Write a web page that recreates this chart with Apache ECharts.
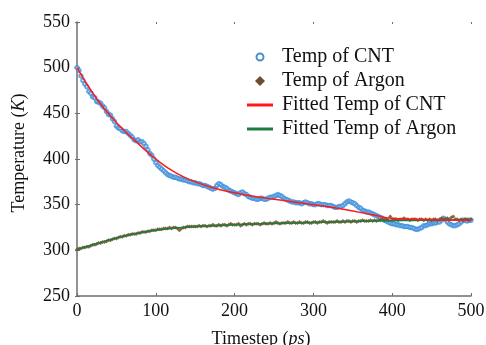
<!DOCTYPE html>
<html>
<head>
<meta charset="utf-8">
<script src="https://cdn.jsdelivr.net/npm/echarts@6/dist/echarts.min.js"></script>
<style>
  html, body { margin: 0; padding: 0; background: #fff; }
  #chart { width: 486px; height: 345px; }
</style>
</head>
<body>
<div id="chart"></div>
<script>
// sample step of the scatter data (ps)
var stepPs = 2.5;
var fitStepPs = 25;

// Temp of CNT, one value every 2.5 ps from 0 to 500
var tempCNT = [500,
  497, 491, 486, 482, 479, 474, 472, 468, 467, 463,
  462, 461, 458, 456, 452, 449, 448, 444, 441, 436,
  434, 433, 431, 430, 430, 428, 426, 424, 421, 420,
  421, 419, 419, 417, 414, 410, 406, 404, 400, 396,
  393, 391, 389, 387, 385, 383, 382, 381, 380, 380,
  379, 378, 378, 377, 377, 376, 375, 375, 374, 374,
  373, 373, 372, 371, 371, 370, 369, 368, 367, 368,
  371, 373, 372, 370, 369, 368, 366, 365, 364, 363,
  362, 361, 363, 364, 362, 361, 359, 358, 357, 357,
  356, 356, 357, 357, 356, 356, 357, 358, 358, 359,
  360, 361, 360, 359, 357, 356, 355, 354, 353, 353,
  352, 352, 352, 351, 352, 353, 352, 351, 351, 350,
  350, 351, 351, 350, 350, 350, 349, 349, 349, 348,
  347, 347, 348, 348, 349, 351, 353, 354, 353, 352,
  351, 349, 347, 346, 344, 343, 342, 342, 341, 340,
  339, 338, 337, 336, 335, 333, 332, 331, 330, 329,
  329, 328, 328, 327, 327, 326, 326, 326, 325, 325,
  324, 323, 323, 324, 325, 327, 327, 328, 329, 329,
  330, 330, 331, 331, 333, 335, 334, 331, 329, 328,
  327, 327, 328, 329, 331, 333, 333, 332, 333, 333];

// Temp of Argon, one value every 2.5 ps from 0 to 500
var tempArgon = [301,
  302, 302, 303, 303, 304, 304, 305, 306, 306, 307,
  308, 308, 309, 309, 310, 311, 311, 312, 313, 313,
  314, 315, 315, 316, 316, 317, 317, 318, 318, 318,
  319, 319, 320, 320, 320, 321, 321, 322, 322, 322,
  323, 323, 323, 324, 324, 324, 325, 324, 325, 325,
  324, 322, 324, 325, 325, 326, 326, 326, 326, 326,
  326, 327, 326, 327, 327, 326, 327, 327, 328, 327,
  327, 328, 327, 328, 328, 327, 328, 329, 328, 328,
  328, 329, 327, 328, 329, 328, 329, 329, 328, 329,
  329, 329, 328, 329, 330, 329, 329, 330, 329, 330,
  331, 330, 329, 330, 330, 330, 331, 330, 330, 331,
  330, 330, 331, 330, 330, 331, 331, 330, 330, 331,
  331, 330, 331, 331, 332, 331, 330, 331, 331, 331,
  331, 332, 331, 331, 332, 331, 332, 332, 331, 332,
  332, 331, 332, 332, 333, 332, 332, 332, 333, 332,
  333, 332, 333, 333, 334, 333, 334, 333, 337, 334,
  334, 334, 333, 334, 334, 335, 334, 334, 333, 334,
  334, 334, 333, 334, 334, 333, 334, 333, 334, 333,
  334, 334, 333, 334, 335, 334, 334, 335, 334, 336,
  337, 334, 334, 333, 334, 333, 334, 334, 333, 334];

// fitted curves, one value every 25 ps from 0 to 500
var fitCNT = [500, 466, 440, 419, 400, 385, 375, 368, 363, 359, 356,
  353, 350, 347, 343, 339, 335, 334, 333.5, 333, 333];
var fitArgon = [301, 307.5, 313.5, 318.5, 322, 324.5, 326, 327, 328, 328.8, 329.5,
  330, 330.5, 331, 331.5, 332, 332.5, 332.8, 333, 333.2, 333.5];

var seriesNames = ['Temp of CNT', 'Temp of Argon', 'Fitted Temp of CNT', 'Fitted Temp of Argon'];

function pairs(vals, step) {
  return vals.map(function (v, i) { return [i * step, v]; });
}

var myChart = echarts.init(document.getElementById('chart'));
var font = '"Liberation Serif", "Times New Roman", serif';
var axisGray = '#6e6e6e';
// legend glyphs, padded with move-to points so they keep their size in the 26x10 box
var lineIcon = 'path://M0,0M26,10M0,3.5L26,3.5L26,6.5L0,6.5Z';
var diamondIcon = 'path://M0,0M26,10M8,5L13,0L18,5L13,10Z';
var circleIcon = 'path://M0,0M26,10M9.5,5A3.5,3.5 0 1 1 16.5,5A3.5,3.5 0 1 1 9.5,5Z';

var option = {
  animation: false,
  textStyle: { fontFamily: font },
  grid: { left: 77, right: 15, top: 22, bottom: 49, outerBoundsMode: 'none' },
  legend: {
    orient: 'vertical',
    left: 241,
    top: 42,
    itemWidth: 26,
    itemHeight: 10,
    itemGap: 4,
    textStyle: { fontFamily: font, fontSize: 20, color: '#111', padding: [0, 0, 0, 4] },
    data: [
      { name: seriesNames[0], icon: circleIcon, itemStyle: { color: '#fff', borderColor: '#1f72c4', borderWidth: 2 } },
      { name: seriesNames[1], icon: diamondIcon, itemStyle: { color: '#5e3a17' } },
      { name: seriesNames[2], icon: lineIcon, itemStyle: { color: '#ff1a1a' } },
      { name: seriesNames[3], icon: lineIcon, itemStyle: { color: '#1e7a3e' } }
    ]
  },
  xAxis: [{
    type: 'value',
    min: 0, max: 500, interval: 100,
    name: 'Timestep ({i|ps})',
    nameLocation: 'middle',
    nameGap: 34,
    nameTextStyle: {
      fontFamily: font, fontSize: 18, color: '#111', padding: [0, 26, 0, 0],
      rich: { i: { fontFamily: font, fontSize: 18, fontStyle: 'italic', color: '#111' } }
    },
    axisLine: { onZero: false, lineStyle: { color: axisGray, width: 1.5 } },
    axisTick: { inside: true, length: 3, lineStyle: { color: axisGray } },
    axisLabel: { fontFamily: font, fontSize: 18, color: '#111', margin: 6 },
    splitLine: { show: false }
  }, {
    type: 'value', position: 'top',
    min: 0, max: 500, interval: 100,
    axisLine: { show: false },
    axisTick: { inside: true, length: 2, lineStyle: { color: axisGray } },
    axisLabel: { show: false },
    splitLine: { show: false }
  }],
  yAxis: [{
    type: 'value',
    min: 250, max: 550, interval: 50,
    name: 'Temperature ({i|K})',
    nameLocation: 'middle',
    nameGap: 49,
    nameTextStyle: {
      fontFamily: font, fontSize: 18, color: '#111', padding: [0, 0, 0, 12],
      rich: { i: { fontFamily: font, fontSize: 18, fontStyle: 'italic', color: '#111' } }
    },
    axisLine: { onZero: false, lineStyle: { color: axisGray, width: 1.5 } },
    axisTick: { inside: true, length: 3, lineStyle: { color: axisGray } },
    axisLabel: { fontFamily: font, fontSize: 18, color: '#111', margin: 7 },
    splitLine: { show: false }
  }, {
    type: 'value', position: 'right',
    min: 250, max: 550, interval: 50,
    axisLine: { show: false },
    axisTick: { inside: true, length: 2, lineStyle: { color: axisGray } },
    axisLabel: { show: false },
    splitLine: { show: false }
  }],
  series: [
    {
      name: seriesNames[0],
      type: 'scatter',
      symbol: 'emptyCircle',
      symbolSize: 3.5,
      itemStyle: { color: '#3d8fdc', borderWidth: 1, opacity: 0.8 },
      data: pairs(tempCNT, stepPs),
      z: 2
    },
    {
      name: seriesNames[1],
      type: 'scatter',
      symbol: 'diamond',
      symbolSize: 4,
      itemStyle: { color: '#7b5530', opacity: 0.9 },
      data: pairs(tempArgon, stepPs),
      z: 2
    },
    {
      name: seriesNames[2],
      type: 'line',
      smooth: true,
      symbol: 'none',
      lineStyle: { color: '#ff1a1a', width: 1.5 },
      itemStyle: { color: '#ff1a1a' },
      data: pairs(fitCNT, fitStepPs),
      z: 4
    },
    {
      name: seriesNames[3],
      type: 'line',
      smooth: true,
      symbol: 'none',
      lineStyle: { color: '#1e7a3e', width: 1.5 },
      itemStyle: { color: '#1e7a3e' },
      data: pairs(fitArgon, fitStepPs),
      z: 3
    }
  ]
};

myChart.setOption(option);
</script>
</body>
</html>
